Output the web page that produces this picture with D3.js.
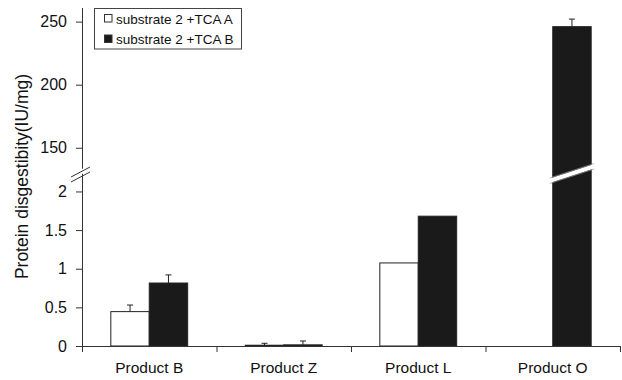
<!DOCTYPE html>
<html>
<head>
<meta charset="utf-8">
<script src="https://cdn.jsdelivr.net/npm/d3@7"></script>
<style>
  body { margin: 0; background: #fff; }
  text { font-family: "Liberation Sans", Arial, sans-serif; }
</style>
</head>
<body>
<script>
const categories = ["Product B", "Product Z", "Product L", "Product O"];
const seriesNames = ["substrate 2 +TCA A", "substrate 2 +TCA B"];
const valuesA = [0.445, 0.01, 1.075, 0];
const valuesB = [0.815, 0.015, 1.68, 246];
const errorsA = [0.085, 0.025, 0, 0];
const errorsB = [0.105, 0.05, 0, 6];
const lowTicks = [0, 0.5, 1, 1.5, 2];
const highTicks = [150, 200, 250];

const width = 622, height = 380;
const svg = d3.select("body").append("svg")
    .attr("width", width)
    .attr("height", height);

const axisColor = "#333";
const x0 = d3.scaleBand().domain(categories).range([82, 620]);
const x1 = d3.scaleBand().domain(seriesNames).range([0, x0.bandwidth()])
    .paddingInner(0).paddingOuter(0.75);

// broken y axis: two pieces
const yLow = d3.scaleLinear().domain([0, 2.2]).range([346, 176]);
const yHigh = d3.scaleLinear().domain([130, 260]).range([173, 9]);
const breakVal = 2.2;
function yPos(v) { return v > breakVal ? yHigh(v) : yLow(v); }

const fills = ["#ffffff", "#1a1a1a"];
const rows = [];
categories.forEach((c, i) => {
    rows.push({ cat: c, s: seriesNames[0], v: valuesA[i], e: errorsA[i], k: 0 });
    rows.push({ cat: c, s: seriesNames[1], v: valuesB[i], e: errorsB[i], k: 1 });
});

// bars
svg.selectAll("rect.bar")
    .data(rows.filter(d => d.v > 0))
    .enter().append("rect")
    .attr("class", "bar")
    .attr("x", d => x0(d.cat) + x1(d.s))
    .attr("y", d => yPos(d.v))
    .attr("width", x1.bandwidth())
    .attr("height", d => yLow(0) - yPos(d.v))
    .attr("fill", d => fills[d.k])
    .attr("stroke", "#222")
    .attr("stroke-width", 1);

// error bars (upper only)
const eb = svg.selectAll("g.err")
    .data(rows.filter(d => d.e > 0))
    .enter().append("g")
    .attr("stroke", "#222")
    .attr("stroke-width", 1);
eb.append("line")
    .attr("x1", d => x0(d.cat) + x1(d.s) + x1.bandwidth() / 2)
    .attr("x2", d => x0(d.cat) + x1(d.s) + x1.bandwidth() / 2)
    .attr("y1", d => yPos(d.v))
    .attr("y2", d => yPos(d.v + d.e));
eb.append("line")
    .attr("x1", d => x0(d.cat) + x1(d.s) + x1.bandwidth() / 2 - 3)
    .attr("x2", d => x0(d.cat) + x1(d.s) + x1.bandwidth() / 2 + 3)
    .attr("y1", d => yPos(d.v + d.e))
    .attr("y2", d => yPos(d.v + d.e));

// break band across the tall bar
rows.filter(d => d.v > breakVal).forEach(d => {
    const bx = x0(d.cat) + x1(d.s);
    const bw = x1.bandwidth();
    const g = svg.append("g");
    g.append("polygon")
        .attr("points", [
            [bx - 3, 183], [bx + bw + 3, 168.5], [bx + bw + 3, 164], [bx - 3, 178.5]
        ].join(" "))
        .attr("fill", "#fff");
    g.append("line").attr("x1", bx - 3).attr("y1", 183.5).attr("x2", bx + bw + 3).attr("y2", 169)
        .attr("stroke", "#999").attr("stroke-width", 0.7);
    g.append("line").attr("x1", bx - 3).attr("y1", 178).attr("x2", bx + bw + 3).attr("y2", 163.5)
        .attr("stroke", "#999").attr("stroke-width", 0.7);
});

// y axes
const axLow = svg.append("g")
    .attr("transform", "translate(82,0)")
    .call(d3.axisLeft(yLow).tickValues(lowTicks).tickFormat(d3.format("")).tickSize(6).tickPadding(9));
const axHigh = svg.append("g")
    .attr("transform", "translate(82,0)")
    .call(d3.axisLeft(yHigh).tickValues(highTicks).tickSize(6).tickPadding(9));
[axLow, axHigh].forEach(a => {
    a.select(".domain").remove();
    a.selectAll("line").attr("stroke", axisColor);
    a.selectAll("text").attr("font-size", 16).attr("fill", "#111")
        .attr("font-family", "'Liberation Sans', Arial, sans-serif");
});
svg.append("line").attr("x1", 82.5).attr("x2", 82.5).attr("y1", 346).attr("y2", 8)
    .attr("stroke", axisColor);

// axis break marks
svg.append("polygon")
    .attr("points", "70,180 92,169 92,164 70,175")
    .attr("fill", "#fff");
svg.append("line").attr("x1", 71).attr("y1", 182).attr("x2", 90).attr("y2", 172)
    .attr("stroke", axisColor);
svg.append("line").attr("x1", 71).attr("y1", 177).attr("x2", 90).attr("y2", 167)
    .attr("stroke", axisColor);

// x axis
const xAxis = svg.append("g")
    .attr("transform", "translate(0,346)");
xAxis.append("line").attr("x1", 82).attr("x2", 620).attr("y1", 0.5).attr("y2", 0.5)
    .attr("stroke", axisColor);
const bounds = categories.map(c => x0(c)).concat([x0.range()[1]]);
xAxis.selectAll("line.tk")
    .data(bounds)
    .enter().append("line")
    .attr("x1", d => d + 0.5).attr("x2", d => d + 0.5)
    .attr("y1", 0).attr("y2", 6)
    .attr("stroke", axisColor);
xAxis.selectAll("text")
    .data(categories)
    .enter().append("text")
    .attr("x", d => x0(d) + x0.bandwidth() / 2)
    .attr("y", 27)
    .attr("text-anchor", "middle")
    .attr("font-size", 15.5)
    .attr("fill", "#111")
    .text(d => d);

// y label
svg.append("text")
    .attr("transform", "translate(28,176.5) rotate(-90)")
    .attr("text-anchor", "middle")
    .attr("font-size", 17.5)
    .attr("fill", "#111")
    .text("Protein disgestibity(IU/mg)");

// legend
const lg = svg.append("g");
lg.append("rect").attr("x", 94.5).attr("y", 8.5).attr("width", 147).attr("height", 40.5)
    .attr("fill", "#fff").attr("stroke", "#444");
seriesNames.forEach((s, i) => {
    lg.append("rect")
        .attr("x", 104.5).attr("y", 14.5 + i * 20.5)
        .attr("width", 7.5).attr("height", 7.5)
        .attr("fill", fills[i]).attr("stroke", "#333");
    lg.append("text")
        .attr("x", 116).attr("y", 24 + i * 19.5)
        .attr("font-size", 13.5)
        .attr("fill", "#111")
        .text(s);
});
</script>
</body>
</html>
